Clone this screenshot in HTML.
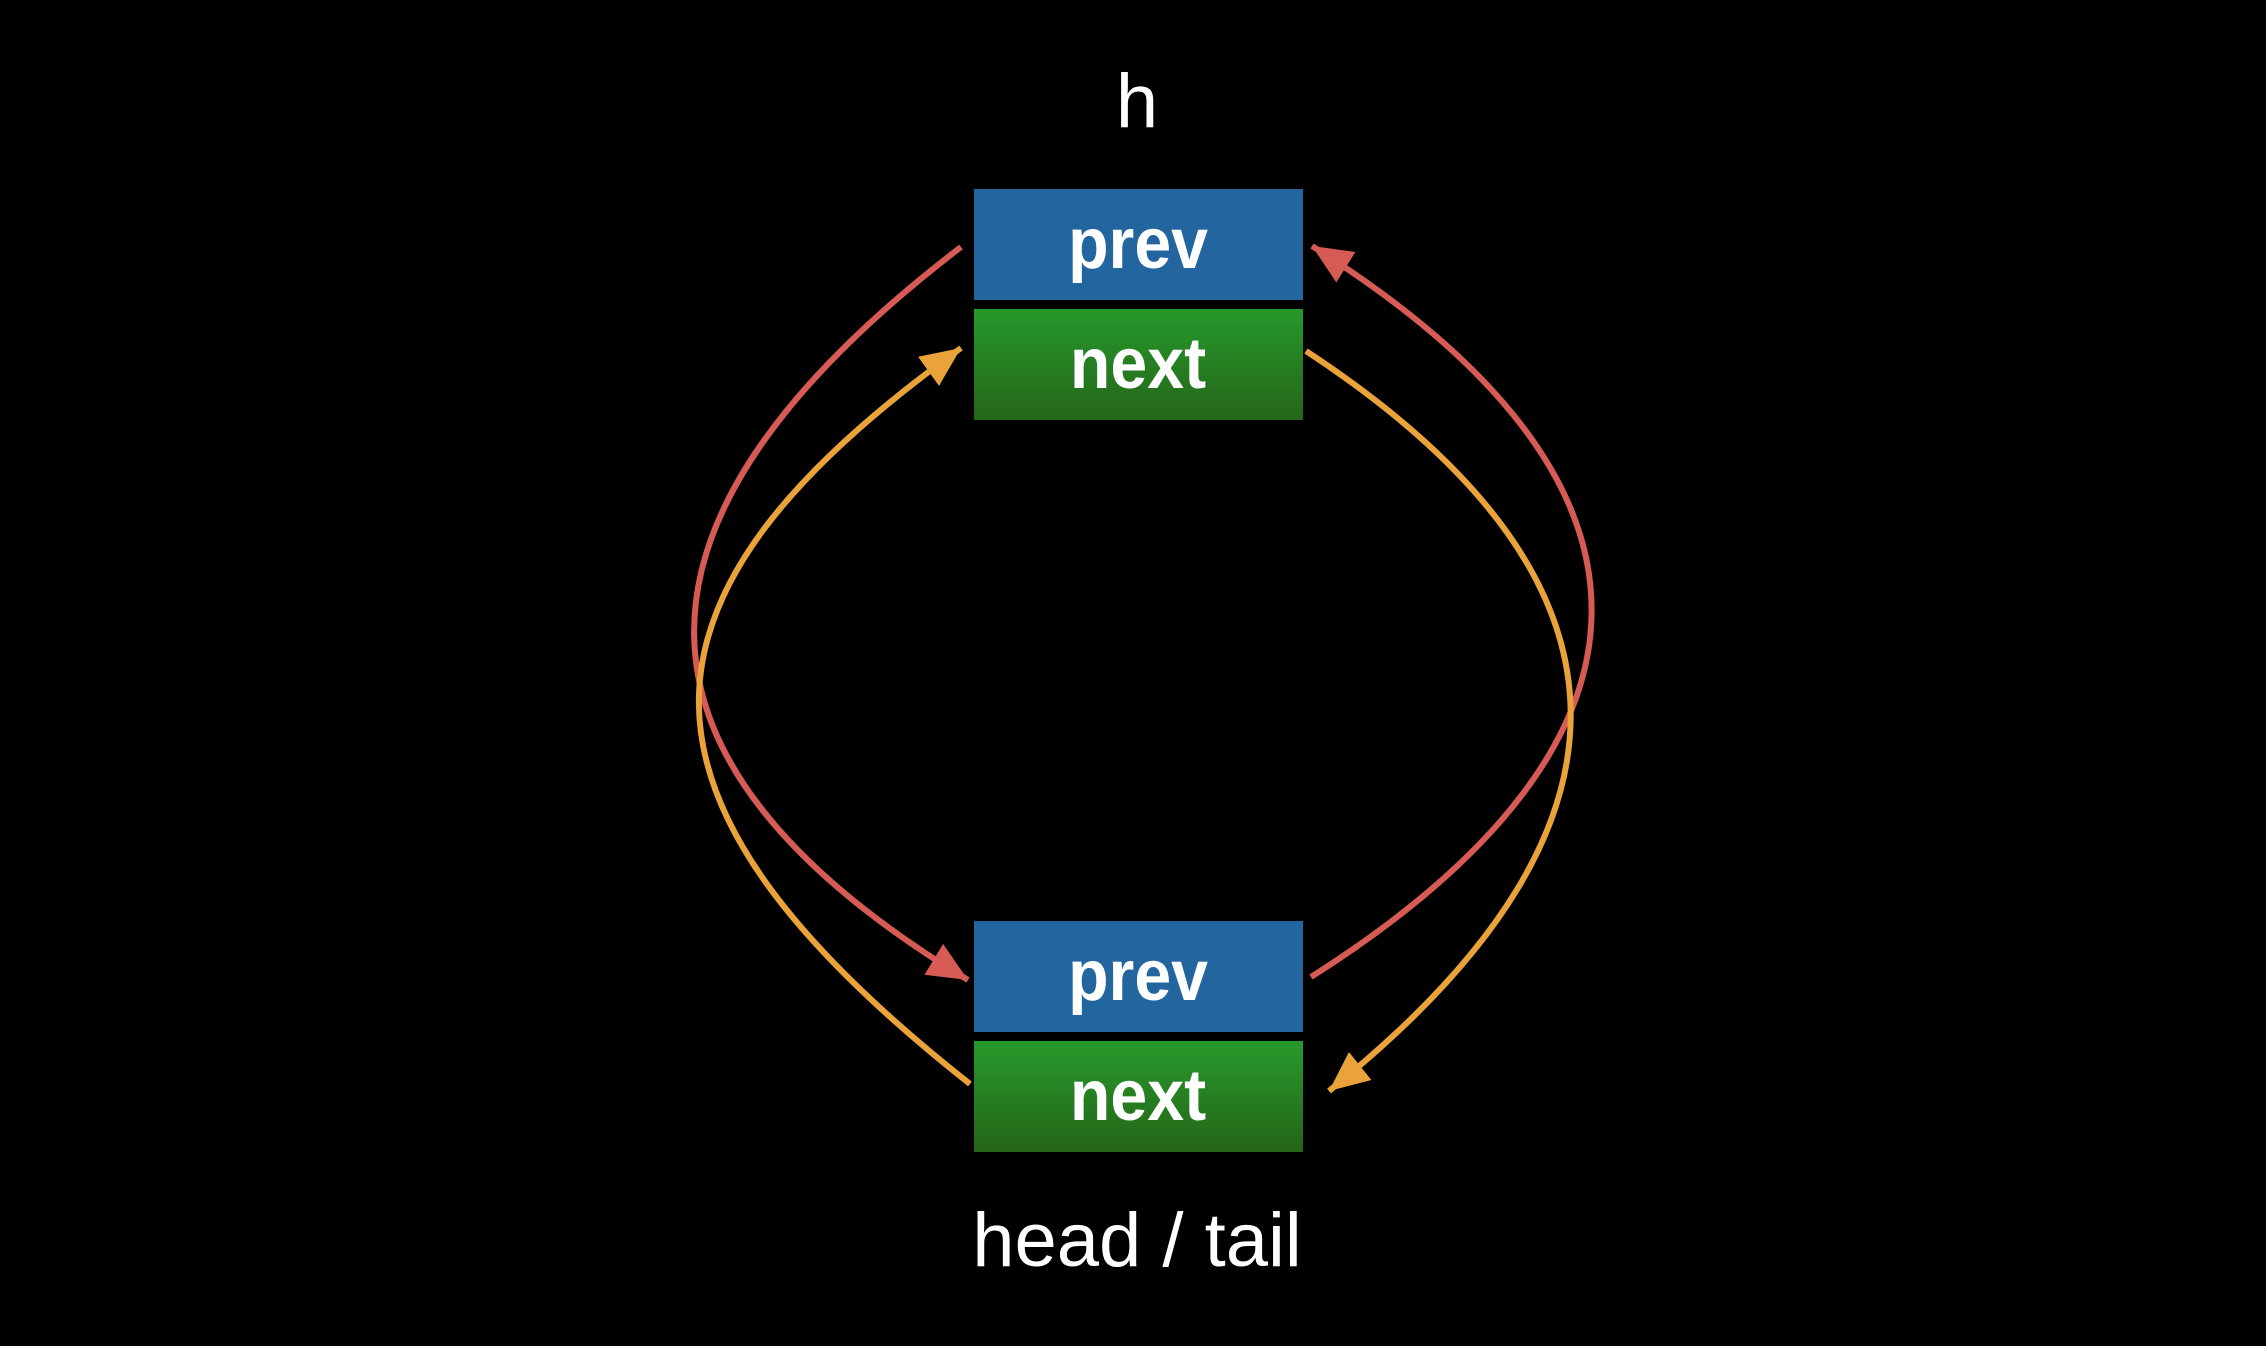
<!DOCTYPE html>
<html><head><meta charset="utf-8"><style>
html,body{margin:0;padding:0;background:#000;}
body{width:2266px;height:1346px;position:relative;overflow:hidden;font-family:"Liberation Sans",sans-serif;}
.box{position:absolute;left:974px;width:329px;height:111px;color:#fff;font-weight:bold;font-size:72px;text-align:center;line-height:111px;}
.box span{display:inline-block;transform:scaleX(0.92);}
.prev{background:#23659f;}
.next{background:linear-gradient(#26992b,#256518);}
.lbl{position:absolute;color:#fff;font-size:76px;text-align:center;width:600px;left:837px;}
svg{position:absolute;left:0;top:0;}
</style></head><body>
<div class="lbl" style="top:58px;">h</div>
<div class="box prev" style="top:189px;"><span>prev</span></div>
<div class="box next" style="top:309px;"><span>next</span></div>
<div class="box prev" style="top:921px;"><span>prev</span></div>
<div class="box next" style="top:1041px;"><span>next</span></div>
<div class="lbl" style="top:1197px;">head / tail</div>
<svg width="2266" height="1346" viewBox="0 0 2266 1346">
<defs>
<marker id="ar" markerUnits="userSpaceOnUse" markerWidth="50" markerHeight="50" refX="40" refY="18" orient="auto"><path d="M0,0 L40,18 L0,36 z" fill="#d65b55"/></marker>
<marker id="ao" markerUnits="userSpaceOnUse" markerWidth="50" markerHeight="50" refX="40" refY="18" orient="auto"><path d="M0,0 L40,18 L0,36 z" fill="#eaa33b"/></marker>
</defs>
<g fill="none" stroke-width="6">
<path d="M961,247 C604,520 604,760 968,980" stroke="#d65b55" marker-end="url(#ar)"/>
<path d="M1311,977 C1685,740 1685,480 1312,246" stroke="#d65b55" marker-end="url(#ar)"/>
<path d="M970,1084 C610,800 610,600 961,348" stroke="#eaa33b" marker-end="url(#ao)"/>
<path d="M1306,351 C1655,580 1655,830 1329,1091" stroke="#eaa33b" marker-end="url(#ao)"/>
</g>
</svg>
</body></html>
